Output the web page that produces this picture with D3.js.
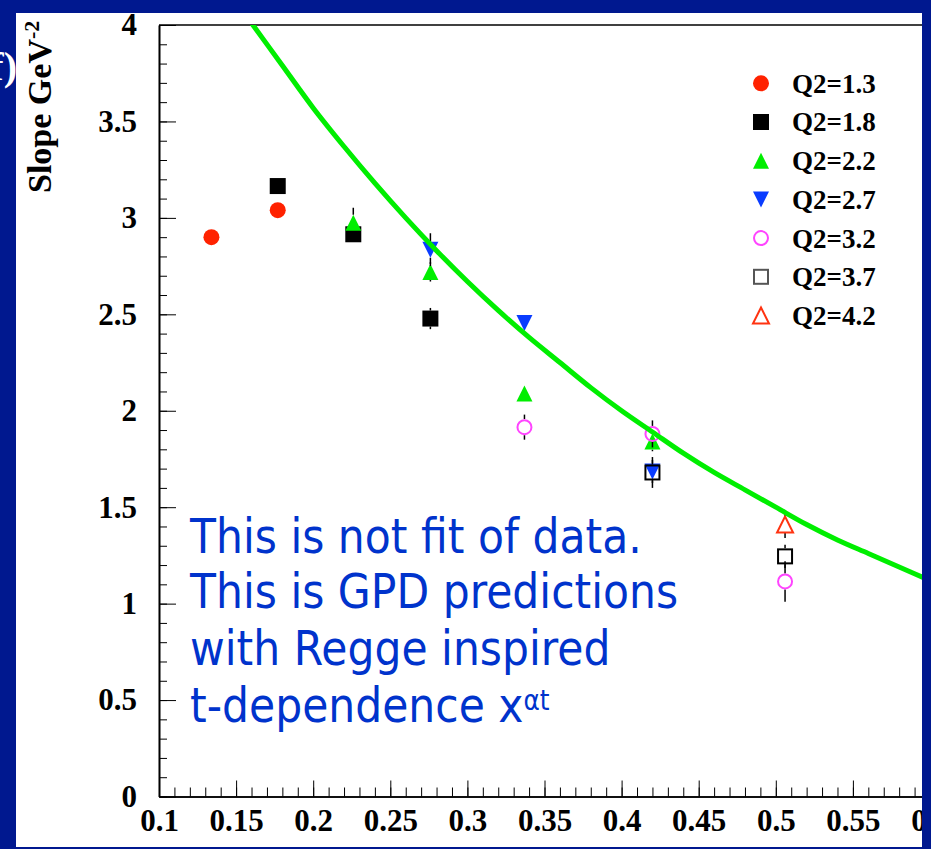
<!DOCTYPE html>
<html lang="en">
  <head>
   <meta http-equiv="Content-Type" content="text/html;charset=utf-8">
   <title>Slope vs x</title>
   <script type="text/javascript" src="https://cdn.jsdelivr.net/npm/d3@7/dist/d3.min.js"></script>
   <style>
     body { margin: 0; background: #00188f; }
   </style>
   </head>

  <body>
<script>

// slope values per Q2 bin
var q2_13_x = [0.134, 0.177]
var q2_13_y = [2.90, 3.04]
var q2_13_err = [0.02, 0.02]

var q2_18_x = [0.177, 0.226, 0.276]
var q2_18_y = [3.165, 2.915, 2.478]
var q2_18_err = [0.02, 0.03, 0.055]

var q2_22_x = [0.226, 0.276, 0.337, 0.42]
var q2_22_y = [2.975, 2.72, 2.09, 1.84]
var q2_22_err = [0.078, 0.05, 0.04, 0.05]

var q2_27_x = [0.276, 0.337, 0.42]
var q2_27_y = [2.835, 2.455, 1.685]
var q2_27_err = [0.085, 0.03, 0.06]

var q2_32_x = [0.337, 0.42, 0.506]
var q2_32_y = [1.915, 1.88, 1.115]
var q2_32_err = [0.065, 0.07, 0.105]

var q2_37_x = [0.42, 0.506]
var q2_37_y = [1.68, 1.245]
var q2_37_err = [0.08, 0.06]

var q2_42_x = [0.506]
var q2_42_y = [1.41]
var q2_42_err = [0.07]

var legend_labels = ["Q2=1.3", "Q2=1.8", "Q2=2.2", "Q2=2.7", "Q2=3.2", "Q2=3.7", "Q2=4.2"]

// GPD prediction curve (green)
var curve_x = [0.16, 0.18, 0.20, 0.22, 0.24, 0.26, 0.28, 0.30, 0.32, 0.34, 0.36, 0.38,
               0.40, 0.42, 0.44, 0.46, 0.48, 0.50, 0.52, 0.54, 0.56, 0.58, 0.60]
var curve_y = [4.01, 3.79, 3.57, 3.37, 3.18, 3.00, 2.83, 2.67, 2.52, 2.38, 2.25, 2.12,
               2.00, 1.89, 1.78, 1.68, 1.59, 1.50, 1.41, 1.33, 1.26, 1.19, 1.12]

var x_ticks = [0.1, 0.15, 0.2, 0.25, 0.3, 0.35, 0.4, 0.45, 0.5, 0.55, 0.6]
var y_ticks = [0, 0.5, 1, 1.5, 2, 2.5, 3, 3.5, 4]

var note_lines = ["This is not fit of data.", "This is GPD predictions", "with Regge inspired", "t-dependence x"]

// series styles: marker shape, fill, stroke
var series = [
  {x: q2_13_x, y: q2_13_y, err: q2_13_err, shape: "circle", fill: "#ff2200", stroke: "none"},
  {x: q2_18_x, y: q2_18_y, err: q2_18_err, shape: "square", fill: "#000000", stroke: "none"},
  {x: q2_22_x, y: q2_22_y, err: q2_22_err, shape: "up", fill: "#00ee00", stroke: "none"},
  {x: q2_27_x, y: q2_27_y, err: q2_27_err, shape: "down", fill: "#0a3cff", stroke: "none"},
  {x: q2_32_x, y: q2_32_y, err: q2_32_err, shape: "circle", fill: "none", stroke: "#ff44ff"},
  {x: q2_37_x, y: q2_37_y, err: q2_37_err, shape: "square", fill: "none", stroke: "#000000"},
  {x: q2_42_x, y: q2_42_y, err: q2_42_err, shape: "up", fill: "none", stroke: "#ff3311"}
]

var W = 931, H = 849
var msize = 16

var x = d3.scaleLinear().domain([0.1, 0.6]).range([159, 930])
var y = d3.scaleLinear().domain([0, 4]).range([796.5, 25])

var svg = d3.select("body").append("svg")
  .attr("width", W)
  .attr("height", H)
  .style("display", "block")

var defs = svg.append("defs")
defs.append("clipPath").attr("id", "panel")
  .append("rect").attr("x", 16).attr("y", 13).attr("width", 906).attr("height", 834)
defs.append("clipPath").attr("id", "frame")
  .append("rect").attr("x", 159).attr("y", 25).attr("width", 771).attr("height", 771.5)

svg.append("rect").attr("width", W).attr("height", H).attr("fill", "#00188f")

// bit of the panel label left of the white area
svg.append("text")
  .attr("x", 17).attr("y", 80)
  .attr("text-anchor", "end")
  .attr("font-family", "Liberation Serif")
  .attr("font-weight", "bold")
  .attr("font-size", 40)
  .attr("fill", "white")
  .text("f)")

svg.append("rect").attr("x", 16).attr("y", 13).attr("width", 906).attr("height", 834).attr("fill", "white")

var g = svg.append("g").attr("clip-path", "url(#panel)")

var fmt = function(d){ return String(+d.toFixed(2)) }

// minor ticks first
g.append("g")
  .attr("transform", "translate(0,796.5)")
  .call(d3.axisBottom(x).tickValues(d3.range(0.1, 0.6001, 0.01)).tickSizeInner(-9).tickSizeOuter(0).tickFormat(""))
g.append("g")
  .attr("transform", "translate(159,0)")
  .call(d3.axisLeft(y).tickValues(d3.range(0, 4.001, 0.1)).tickSizeInner(-8).tickSizeOuter(0).tickFormat(""))

var xAxis = g.append("g")
  .attr("transform", "translate(0,796.5)")
  .call(d3.axisBottom(x).tickValues(x_ticks).tickSizeInner(-16).tickSizeOuter(0).tickPadding(12).tickFormat(fmt))
var yAxis = g.append("g")
  .attr("transform", "translate(159,0)")
  .call(d3.axisLeft(y).tickValues(y_ticks).tickSizeInner(-17).tickSizeOuter(0).tickPadding(22).tickFormat(fmt))

g.selectAll(".domain").attr("stroke", "#000").attr("stroke-width", 1.6)
g.selectAll(".tick line").attr("stroke", "#000").attr("stroke-width", 1)
g.selectAll(".tick text")
  .attr("font-family", "Liberation Serif")
  .attr("font-weight", "bold")
  .attr("font-size", 31)
  .attr("fill", "#000")

// top frame line
g.append("line")
  .attr("x1", x(0.1)).attr("x2", x(0.6))
  .attr("y1", y(4)).attr("y2", y(4))
  .attr("stroke", "#000").attr("stroke-width", 1.6)

// y title
var ytitle = svg.append("text")
  .attr("transform", "translate(51,193) rotate(-90)")
  .attr("font-family", "Liberation Serif")
  .attr("font-weight", "bold")
  .attr("font-size", 34)
  .attr("fill", "#000")
ytitle.append("tspan").text("Slope GeV")
ytitle.append("tspan").attr("font-size", 22).attr("dy", -12).text("-2")

var drawMarker = function(sel, shape, cx, cy, fill, stroke){
  var h = msize / 2
  if (shape == "circle"){
    sel.append("circle").attr("cx", cx).attr("cy", cy).attr("r", h - (stroke == "none" ? 0 : 1))
      .attr("fill", fill).attr("stroke", stroke).attr("stroke-width", 2)
  } else if (shape == "square"){
    var s = stroke == "none" ? msize : msize - 2
    sel.append("rect").attr("x", cx - s/2).attr("y", cy - s/2).attr("width", s).attr("height", s)
      .attr("fill", fill).attr("stroke", stroke).attr("stroke-width", 2)
  } else {
    var dir = shape == "up" ? 1 : -1
    var pts = [[cx - h, cy + dir*h], [cx + h, cy + dir*h], [cx, cy - dir*h]]
    sel.append("polygon").attr("points", pts.map(function(p){ return p.join(",") }).join(" "))
      .attr("fill", fill).attr("stroke", stroke).attr("stroke-width", 2)
  }
}

var pg = g.append("g").attr("clip-path", "url(#frame)")

series.forEach(function(s){
  for (var i = 0; i < s.x.length; i++){
    var cx = x(s.x[i]), cy = y(s.y[i])
    var top = y(s.y[i] + s.err[i]), bot = y(s.y[i] - s.err[i])
    if (top < cy - msize/2)
      pg.append("line").attr("x1", cx).attr("x2", cx).attr("y1", top).attr("y2", cy - msize/2)
        .attr("stroke", "#000").attr("stroke-width", 1.5)
    if (bot > cy + msize/2)
      pg.append("line").attr("x1", cx).attr("x2", cx).attr("y1", cy + msize/2).attr("y2", bot)
        .attr("stroke", "#000").attr("stroke-width", 1.5)
    drawMarker(pg, s.shape, cx, cy, s.fill, s.stroke)
  }
})

var line = d3.line()
  .x(function(d){ return x(d[0]) })
  .y(function(d){ return y(d[1]) })
  .curve(d3.curveMonotoneX)

pg.append("path")
  .datum(curve_x.map(function(v, i){ return [v, curve_y[i]] }))
  .attr("d", line)
  .attr("fill", "none")
  .attr("stroke", "#00ee00")
  .attr("stroke-width", 5)

// legend
var lg = g.append("g")
legend_labels.forEach(function(lab, i){
  var cy = 83.3 + i * 38.7
  var s = series[i]
  var st = s.stroke == "#000000" ? "#555" : s.stroke
  drawMarker(lg, s.shape, 761, cy, s.fill, st)
  lg.append("text")
    .attr("x", 792).attr("y", cy).attr("dy", "0.35em")
    .attr("font-family", "Liberation Serif")
    .attr("font-weight", "bold")
    .attr("font-size", 27)
    .attr("fill", "#000")
    .text(lab)
})

// note text
var ng = g.append("g").attr("transform", "translate(190,0) scale(0.886,1)")
var baselines = [553, 608.5, 665, 721.7]
note_lines.forEach(function(t, i){
  var tx = ng.append("text")
    .attr("x", 0).attr("y", baselines[i])
    .attr("font-family", "DejaVu Sans")
    .attr("font-size", 48)
    .attr("fill", "#0033cc")
  tx.append("tspan").text(t)
  if (i == 3) tx.append("tspan").attr("font-size", 28).attr("dy", -12).text("αt")
})

</script>
</body>
</html>
